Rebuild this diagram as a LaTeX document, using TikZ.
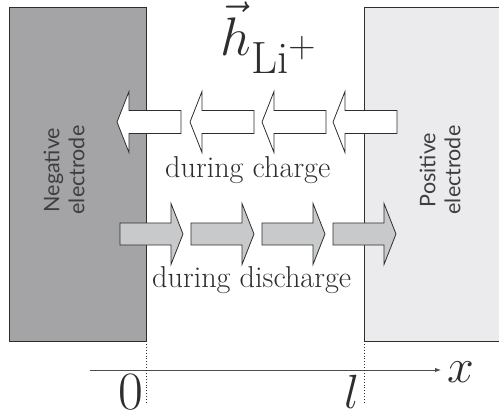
\documentclass[tikz,border=0pt]{standalone}
\usepackage{fontspec}
\usetikzlibrary{arrows.meta}
\newfontfamily\elfont{Lato}
\definecolor{negfill}{HTML}{A4A4A7}
\definecolor{posfill}{HTML}{EBEBED}
\definecolor{disfill}{HTML}{C8C9CB}
\definecolor{ink}{HTML}{2E2E2E}
\definecolor{lab}{HTML}{3E3E40}
\tikzset{
  electrode/.style={draw=ink, line width=1pt},
  arrowshape/.style={draw=ink, line width=0.8pt, line join=miter},
  caption/.style={inner sep=0pt, text=ink, font=\fontsize{30.2}{33}\selectfont},
  ellabel/.style={inner sep=0pt, text=lab, align=center, rotate=90,
                  font=\elfont\fontsize{21.5}{25}\selectfont},
  axislabel/.style={inner sep=0pt, text=ink, font=\Huge},
  guide/.style={draw=ink, dotted, line width=0.9pt},
  pics/chargearrow/.style={code={
    \draw[arrowshape, fill=white] (0,0) -- (12,-30.5) -- (12,-11.5) -- (64,-11.5)
      -- (64,11.5) -- (12,11.5) -- (12,30.5) -- cycle;}},
  pics/dischargearrow/.style={code={
    \draw[arrowshape, fill=disfill] (0,-11) -- (51,-11) -- (51,-30.5) -- (63,0)
      -- (51,30.5) -- (51,11) -- (0,11) -- cycle;}}
}
\begin{document}
\begin{tikzpicture}[x=1pt,y=-1pt]
\useasboundingbox (0,0) rectangle (499,415);
% electrodes
\draw[electrode, fill=negfill] (9,7) rectangle (146,341);
\draw[electrode, fill=posfill] (510,7) -- (364,7) -- (364,341) -- (510,341);
\coordinate (negtop) at (146,341);
\coordinate (negbot) at (146,404);
\coordinate (postop) at (364,341);
\coordinate (posbot) at (364,404);
\node[ellabel] (neg) at (64,170) {Negative\\electrode};
\node[ellabel] (pos) at (440,170) {Positive\\electrode};
% title
\node[inner sep=0pt, text=ink, anchor=base west, font=\Huge, scale=2.18] (title) at (220,55) {$\vec{h}_{\mathrm{Li}^+}$};
% charge arrows
\pic at (117,122) {chargearrow};
\pic at (190,122) {chargearrow};
\pic at (262,122) {chargearrow};
\pic at (333,122) {chargearrow};
\node[caption, anchor=base west] (charge) at (165,177) {during charge};
% discharge arrows
\pic at (120,234) {dischargearrow};
\pic at (191,234) {dischargearrow};
\pic at (262,234) {dischargearrow};
\pic at (333,234) {dischargearrow};
\node[caption, anchor=base west] (discharge) at (152,287) {during discharge};
% axis
\coordinate (axstart) at (90,370);
\coordinate (axend) at (441,370);
\draw[draw=ink!85, line width=0.9pt, -{Latex[length=6pt,width=4.5pt]}] (axstart) -- (axend);
\draw[guide] (negtop) -- (negbot);
\draw[guide] (postop) -- (posbot);
\node[axislabel, scale=2.17] (zero) at (131,392.5) {$0$};
\node[axislabel, scale=1.93] (ell) at (352,391.5) {$l$};
\node[axislabel, scale=1.93] (xlab) at (461,372) {$x$};
\end{tikzpicture}
\end{document}
